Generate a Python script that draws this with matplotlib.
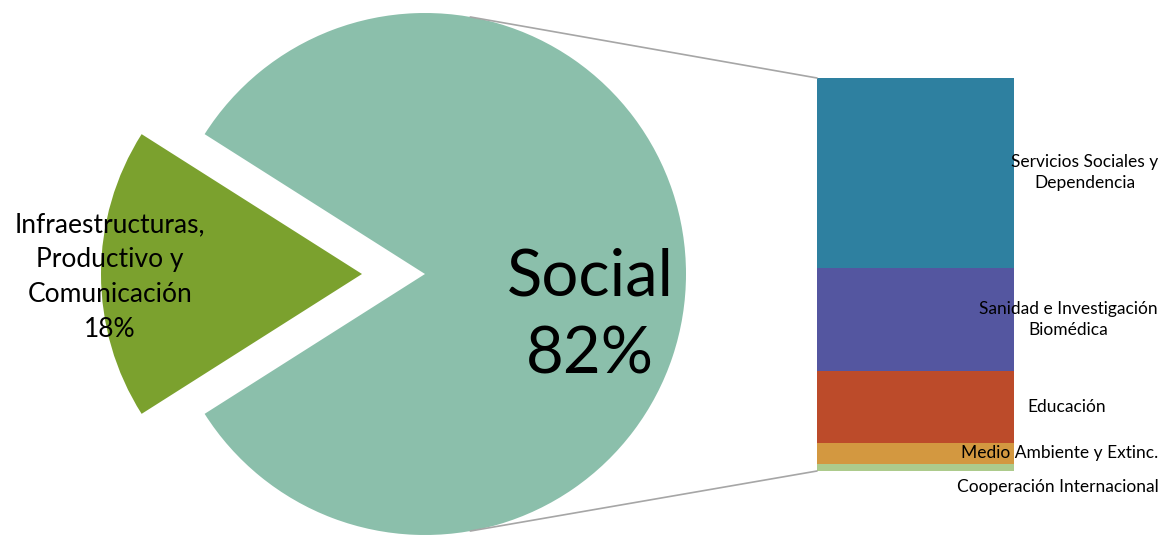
import math

import matplotlib.pyplot as plt
from matplotlib.patches import ConnectionPatch

plt.rcParams['font.family'] = ['Lato', 'DejaVu Sans']

# ---- data ----
pie_labels = ["Infraestructuras,\nProductivo y\nComunicación\n18%", "Social\n82%"]
pie_values = [18, 82]
pie_colors = ["#7BA12E", "#8BBFAB"]

# breakdown of "Social", bottom to top of the bar
bar_labels = ["Cooperación Internacional", "Medio Ambiente y Extinc.", "Educación",
              "Sanidad e Investigación\nBiomédica", "Servicios Sociales y\nDependencia"]
bar_values = [1.5, 4.4, 15.0, 21.5, 39.6]
bar_colors = ["#ADCB8C", "#D39840", "#BC4B2A", "#5456A0", "#2E80A0"]

W, H = 1164, 535
fig = plt.figure(figsize=(W / 100, H / 100), dpi=100)
ax = fig.add_axes([0, 0, 1, 1])

# ---- pie ----
radius = 261
center = (425, H - 274)
start = 180 - pie_values[0] / sum(pie_values) * 180
wedges, _ = ax.pie(pie_values, colors=pie_colors, radius=radius, center=center,
                   explode=[63, 0], startangle=start, counterclock=True,
                   wedgeprops=dict(linewidth=0))
ax.set_xlim(0, W)
ax.set_ylim(0, H)
ax.set_aspect('equal')
ax.axis('off')

ax.text(110, H - 277, pie_labels[0], ha='center', va='center', fontsize=19,
        linespacing=1.5, color='black')
ax.text(590, H - 316, pie_labels[1], ha='center', va='center', fontsize=47,
        linespacing=1.4, color='black')

# ---- stacked bar ----
bx0, bx1, by0, by1 = 817, 1014, H - 471, H - 78
ax2 = fig.add_axes([bx0 / W, by0 / H, (bx1 - bx0) / W, (by1 - by0) / H])
bottom = 0
mids = []
for v, c in zip(bar_values, bar_colors):
    ax2.bar(0.5, v, width=1, bottom=bottom, color=c, linewidth=0)
    mids.append(bottom + v / 2)
    bottom += v
ax2.set_xlim(0, 1)
ax2.set_ylim(0, sum(bar_values))
ax2.axis('off')

label_x = [1058, 1060, 1067, 1068, 1085]
label_dy = [-20, 0, 0, 0, 0]
for lab, m, lx, dy in zip(bar_labels, mids, label_x, label_dy):
    ax2.annotate(lab, xy=((lx - bx0) / (bx1 - bx0), m), xycoords=('axes fraction', 'data'),
                 xytext=(0, dy), textcoords='offset pixels',
                 ha='center', va='center', fontsize=12.5, linespacing=1.4,
                 annotation_clip=False)

# ---- connector lines ----
ang = math.radians(80)
top_pt = (center[0] + radius * math.cos(ang), center[1] + radius * math.sin(ang))
bot_pt = (center[0] + radius * math.cos(ang), center[1] - radius * math.sin(ang))
for p, q in [(top_pt, (0, 1)), (bot_pt, (0, 0))]:
    con = ConnectionPatch(xyA=p, coordsA=ax.transData, xyB=q, coordsB=ax2.transAxes,
                          color="#A6A6A6", linewidth=1.2)
    fig.add_artist(con)

fig.savefig("out.png", dpi=100)
